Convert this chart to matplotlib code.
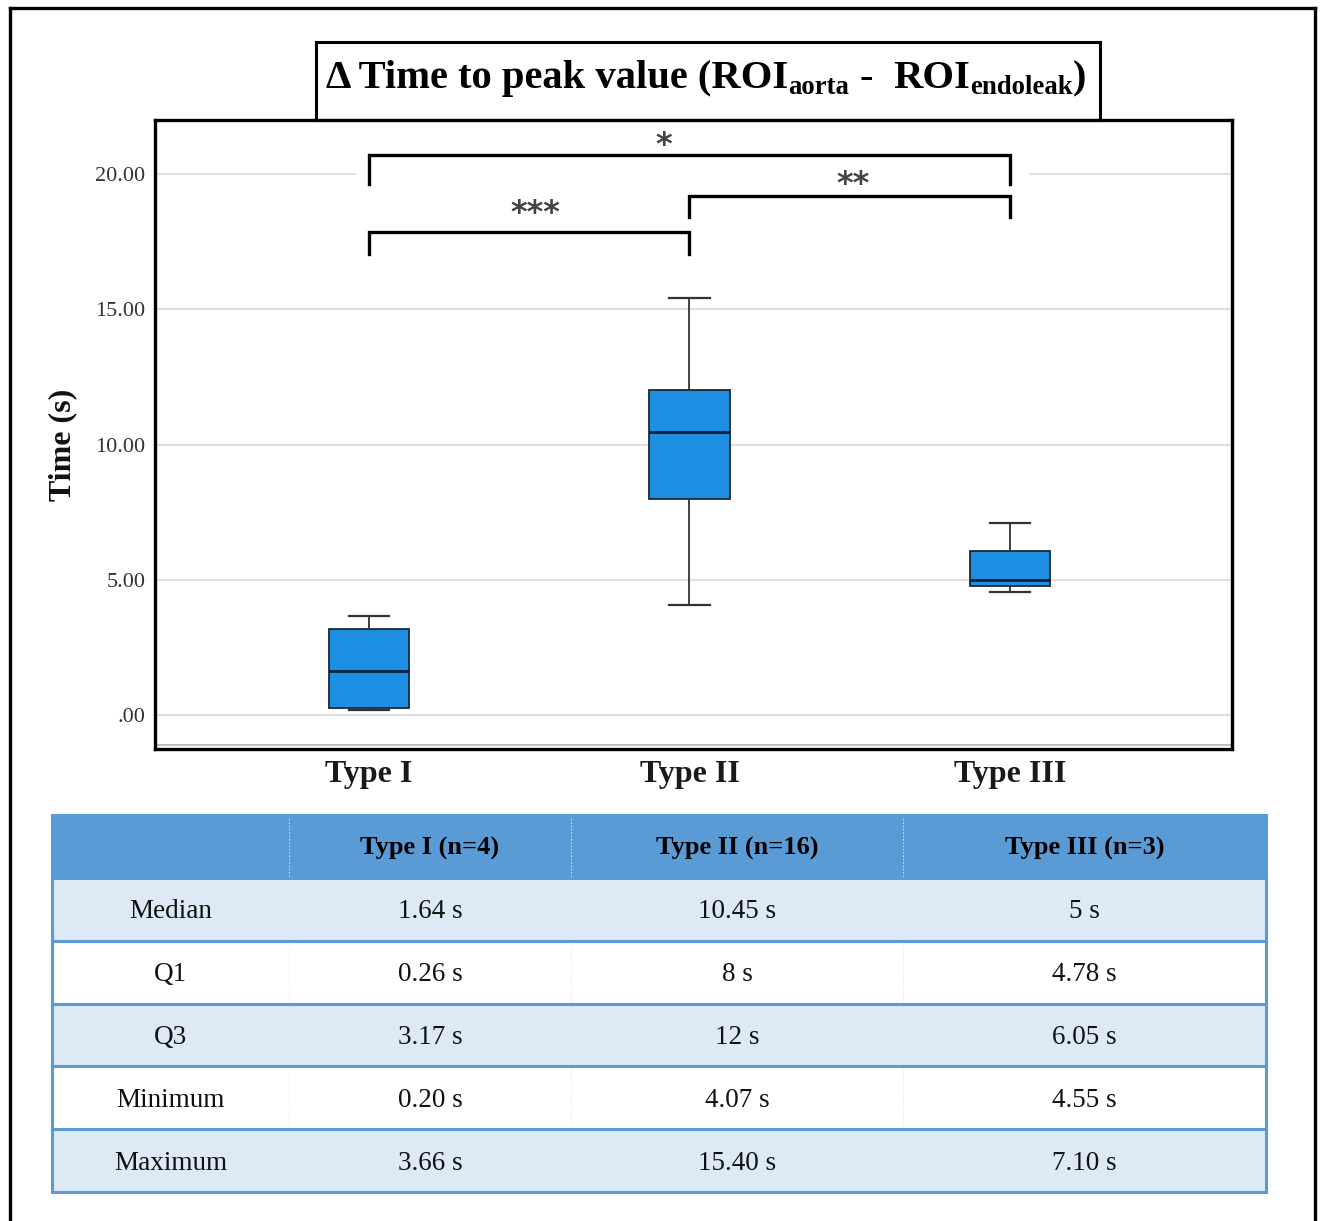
import matplotlib
matplotlib.use("Agg")
import matplotlib.pyplot as plt
from matplotlib.patches import Rectangle
from matplotlib.lines import Line2D

# data
groups = ["Type I", "Type II", "Type III"]
medians = [1.64, 10.45, 5.00]
q1 = [0.26, 8.00, 4.78]
q3 = [3.17, 12.00, 6.05]
mins = [0.20, 4.07, 4.55]
maxs = [3.66, 15.40, 7.10]

y_ticks = [0, 5, 10, 15, 20]
y_tick_labels = [".00", "5.00", "10.00", "15.00", "20.00"]

# significance brackets: (left group, right group, top, leg bottom, label, label x, label y)
brackets = [
    (1, 3, 20.70, 19.62, "*", 1.92, 21.05),
    (2, 3, 19.19, 18.42, "**", 2.51, 19.60),
    (1, 2, 17.84, 17.05, "***", 1.52, 18.55),
]

# title pieces: (text, is subscript, spaces before)
title_parts = [("Δ Time to peak value (ROI", False, 0), ("aorta", True, 0), ("-", False, 1),
               ("ROI", False, 2), ("endoleak", True, 0), (")", False, 0)]

table_cols = ["", "Type I (n=4)", "Type II (n=16)", "Type III (n=3)"]
table_rows = ["Median", "Q1", "Q3", "Minimum", "Maximum"]
table_vals = [
    ["1.64 s", "10.45 s", "5 s"],
    ["0.26 s", "8 s", "4.78 s"],
    ["3.17 s", "12 s", "6.05 s"],
    ["0.20 s", "4.07 s", "4.55 s"],
    ["3.66 s", "15.40 s", "7.10 s"],
]

plt.rcParams["font.family"] = ["Liberation Serif", "DejaVu Serif"]

W, H = 1322, 1221
fig = plt.figure(figsize=(W / 100, H / 100), dpi=100)
renderer = fig.canvas.get_renderer()

def fx(px):
    return px / W

def fy(py):
    return 1 - py / H

# outer frame (open at the bottom)
for xs, ys in [([9.5, 9.5], [H, 7.5]), ([9.5, 1315], [7.5, 7.5]), ([1315, 1315], [7.5, H])]:
    fig.add_artist(Line2D([fx(x) for x in xs], [fy(y) for y in ys], color="black", lw=2.4))

# title box
fig.add_artist(Rectangle((fx(316), fy(120)), fx(1100) - fx(316), fy(42) - fy(120),
                         fill=False, ec="black", lw=2.2, transform=fig.transFigure))

# title text built from pieces so the subscripts sit like the original
def build_title(size, x_left, baseline):
    sub_size = size * 0.66
    probe = fig.text(0, 0, "a a", fontsize=size, fontweight="bold")
    probe2 = fig.text(0, 0, "aa", fontsize=size, fontweight="bold")
    space = probe.get_window_extent(renderer).width - probe2.get_window_extent(renderer).width
    probe.remove()
    probe2.remove()
    x = x_left
    arts = []
    for txt, is_sub, n_sp in title_parts:
        x += n_sp * space
        s = sub_size if is_sub else size
        y = baseline + (6 if is_sub else 0)
        t = fig.text(fx(x), fy(y), txt, fontsize=s, fontweight="bold", ha="left",
                     va="baseline", color="black")
        x += t.get_window_extent(renderer).width
        arts.append(t)
    return arts, x - x_left

arts, width = build_title(32, 326, 88)
scale = 762 / width
for a in arts:
    a.remove()
build_title(32 * scale, 326, 88)

# box plot
ax = fig.add_axes([fx(155), fy(749), fx(1232) - fx(155), fy(120) - fy(749)])
stats = []
for i, g in enumerate(groups):
    stats.append(dict(label=g, med=medians[i], q1=q1[i], q3=q3[i],
                      whislo=mins[i], whishi=maxs[i], fliers=[]))
positions = [1, 2, 3]
ax.bxp(stats, positions=positions, widths=0.25, patch_artist=True, showfliers=False,
       boxprops=dict(facecolor="#1C8FE3", edgecolor="#1b2733", lw=1.3),
       medianprops=dict(color="#0b1f3a", lw=2.0),
       whiskerprops=dict(color="#333333", lw=1.3),
       capprops=dict(color="#333333", lw=1.6),
       capwidths=0.125, zorder=3)

ax.set_xlim(0.332, 3.693)
ax.set_ylim(-1.26, 22.0)
for t in y_ticks:
    ax.axhline(t, color="#dcdcdc", lw=1.3, zorder=0)
ax.axhline(-1.1, color="#b0b0b0", lw=1.2, zorder=0)

# white gap behind the brackets on the 20 line
ax.add_patch(Rectangle((0.96, 19.4), 2.1, 1.0, fc="white", ec="none", zorder=1))

for a, b, top, bot, lab, lx, ly in brackets:
    ax.plot([a, a, b, b], [bot, top, top, bot], color="black", lw=2.4,
            solid_joinstyle="miter", zorder=4)
    ax.text(lx, ly, lab, ha="center", va="center", fontsize=23, color="#444444",
            family="DejaVu Sans", fontweight="bold", zorder=4)

ax.set_yticks(y_ticks)
ax.set_yticklabels(y_tick_labels)
ax.set_xticks(positions)
ax.set_xticklabels(groups)
ax.tick_params(axis="both", length=0)
ax.tick_params(axis="y", labelsize=16, labelcolor="#333333", pad=7)
ax.tick_params(axis="x", labelsize=23, labelcolor="#1a1a1a", pad=8)
for lbl in ax.get_xticklabels():
    lbl.set_fontweight("bold")
for sp in ax.spines.values():
    sp.set_linewidth(2.4)
    sp.set_color("black")
ax.set_ylabel("Time (s)", fontsize=23, fontweight="bold", color="#111111")
ax.yaxis.set_label_coords(-0.072, 0.483)

# summary table
tx0, tx1, ty0, ty1 = 52, 1266, 815, 1192
tax = fig.add_axes([fx(tx0), fy(ty1), fx(tx1) - fx(tx0), fy(ty0) - fy(ty1)])
col_edges = [52, 289, 571, 903, 1266]
col_edges = [(c - tx0) / (tx1 - tx0) for c in col_edges]
n_rows = len(table_rows) + 1
tax.set_xlim(0, 1)
tax.set_ylim(n_rows, 0)
tax.axis("off")

blue = "#5B9BD5"
light = "#DDEAF6"
for r in range(n_rows):
    if r == 0:
        fc = blue
    elif r % 2 == 1:
        fc = light
    else:
        fc = "white"
    tax.add_patch(Rectangle((0, r), 1, 1, fc=fc, ec="none", zorder=0))
    if r == 0:
        cells = table_cols
    else:
        cells = [table_rows[r - 1]] + table_vals[r - 1]
    for c, txt in enumerate(cells):
        cx = (col_edges[c] + col_edges[c + 1]) / 2
        if r == 0:
            tax.text(cx, r + 0.54, txt, ha="center", va="center", fontsize=19,
                     fontweight="bold", color="black")
        else:
            tax.text(cx, r + 0.54, txt, ha="center", va="center", fontsize=19.5,
                     color="#111111")
for c in col_edges[1:-1]:
    tax.plot([c, c], [0, n_rows], color="#e4e4e4", lw=0.6, ls=(0, (2, 2)), zorder=1)
for r in range(1, n_rows):
    tax.plot([0, 1], [r, r], color=blue, lw=2.2, zorder=2)
tax.add_patch(Rectangle((0, 0), 1, n_rows, fill=False, ec=blue, lw=2.2, zorder=3,
                        clip_on=False))

fig.savefig("out.png", dpi=100)
